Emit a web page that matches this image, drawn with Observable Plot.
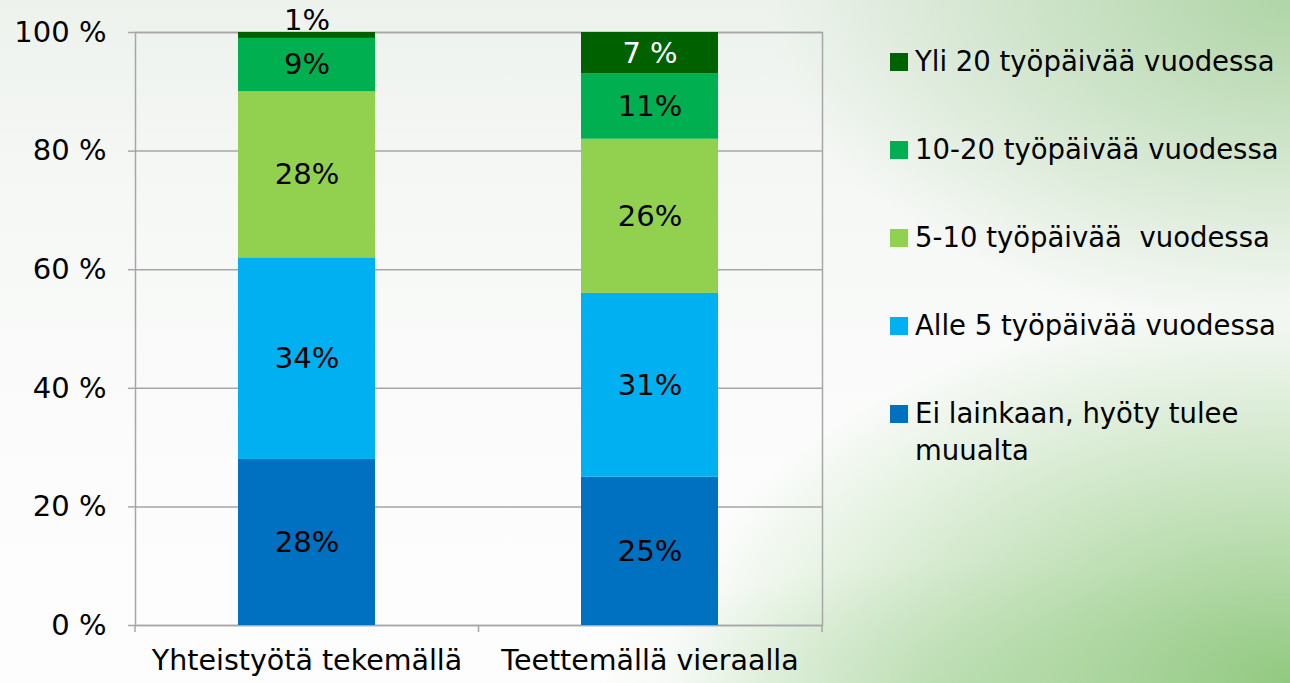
<!DOCTYPE html>
<html>
<head>
<meta charset="utf-8">
<script src="https://cdn.jsdelivr.net/npm/d3@7"></script>
<script src="https://cdn.jsdelivr.net/npm/@observablehq/plot@0.6"></script>
<style>
  html, body { margin: 0; padding: 0; }
  body {
    width: 1290px; height: 683px; overflow: hidden; position: relative;
    background:
      radial-gradient(ellipse 520px 330px at 100% 0%, rgba(165,208,155,0.85), rgba(165,208,155,0) 100%),
      radial-gradient(ellipse 620px 380px at 100% 100%, rgba(140,198,122,0.95), rgba(140,198,122,0) 100%),
      radial-gradient(ellipse 380px 120px at 75% 100%, rgba(160,210,150,0.35), rgba(160,210,150,0) 100%),
      linear-gradient(to bottom, #edf2ed, #f6f8f6 30%, #fbfcfb 70%, #fdfdfd);
    font-family: "DejaVu Sans", sans-serif;
  }
  #chart { position: absolute; left: 0; top: 0; }
  #legend { position: absolute; left: 890px; top: 43px; }
  .item { display: flex; align-items: flex-start; height: 88px; }
  .sw { width: 18px; height: 18px; margin-top: 10px; margin-right: 7px; flex: none; }
  .lab { font-size: 27.5px; line-height: 37px; color: #000; width: 385px; white-space: pre-wrap; }
</style>
</head>
<body>
<div id="chart"></div>
<div id="legend"></div>
<script>
const categories = ["Yhteistyötä tekemällä", "Teettemällä vieraalla"];
const seriesNames = [
  "Ei lainkaan, hyöty tulee muualta",
  "Alle 5 työpäivää vuodessa",
  "5-10 työpäivää  vuodessa",
  "10-20 työpäivää vuodessa",
  "Yli 20 työpäivää vuodessa"
];
const valuesYhteistyo = [28, 34, 28, 9, 1];
const valuesTeettamalla = [25, 31, 26, 11, 7];
const labelsYhteistyo = ["28%", "34%", "28%", "9%", "1%"];
const labelsTeettamalla = ["25%", "31%", "26%", "11%", "7 %"];
const colors = ["#0070c0", "#00b0f0", "#92d050", "#00b050", "#006100"];
const yTicks = [0, 20, 40, 60, 80, 100];

const rows = [];
[[categories[0], valuesYhteistyo, labelsYhteistyo], [categories[1], valuesTeettamalla, labelsTeettamalla]]
  .forEach(([cat, vals, labs]) => vals.forEach((v, i) => rows.push({cat, series: seriesNames[i], value: v, label: labs[i]})));

const dark = seriesNames[4];
const grid = "#a6a6a6";

// x-axis tick marks at category boundaries
function boundaryTicks(index, scales, values, dimensions) {
  const {marginLeft, marginRight, width, height, marginBottom} = dimensions;
  const g = d3.create("svg:g");
  const n = categories.length;
  const step = (width - marginLeft - marginRight) / n;
  for (let i = 0; i <= n; i++) {
    const x = marginLeft + i * step;
    g.append("line").attr("x1", x).attr("x2", x)
      .attr("y1", height - marginBottom).attr("y2", height - marginBottom + 7)
      .attr("stroke", grid).attr("stroke-width", 1.5);
  }
  return g.node();
}

const stackOpts = {x: "cat", y: "value", z: "series", order: seriesNames};

const chart = Plot.plot({
  width: 1290,
  height: 683,
  marginLeft: 135,
  marginRight: 468,
  marginTop: 32,
  marginBottom: 58,
  style: {background: "transparent", fontFamily: "DejaVu Sans, sans-serif", fontSize: "28px", color: "#000"},
  x: {domain: categories, paddingInner: 0.6, paddingOuter: 0.3, label: null},
  y: {domain: [0, 100], label: null},
  color: {domain: seriesNames, range: colors},
  marks: [
    Plot.ruleY(yTicks, {stroke: grid, strokeWidth: 1.5}),
    Plot.frame({stroke: grid, strokeWidth: 1.5}),
    Plot.barY(rows, Plot.stackY({...stackOpts, fill: "series"})),
    Plot.text(rows, Plot.stackY({...stackOpts,
      text: d => (d.series !== dark && d.value >= 3) ? d.label : "",
      fill: "black", fontSize: 29})),
    Plot.text(rows, Plot.stackY({...stackOpts,
      text: d => (d.series === dark && d.value >= 3) ? d.label : "",
      fill: "white", fontSize: 29})),
    Plot.text(rows, Plot.stackY2({...stackOpts,
      text: d => d.value < 3 ? d.label : "",
      fill: "black", fontSize: 29, dy: -12})),
    Plot.axisY({ticks: yTicks, tickFormat: d => d + " %", tickSize: 7, stroke: grid, strokeWidth: 1.5, tickPadding: 22, fill: "black", fontSize: 29, label: null}),
    Plot.axisX({tickSize: 0, tickPadding: 24, fill: "black", fontSize: 28.5, label: null}),
    boundaryTicks
  ]
});
document.getElementById("chart").appendChild(chart);

const legend = document.getElementById("legend");
seriesNames.slice().reverse().forEach((name, i) => {
  const c = colors[colors.length - 1 - i];
  const item = document.createElement("div");
  item.className = "item";
  item.innerHTML = `<div class="sw" style="background:${c}"></div><div class="lab"></div>`;
  item.querySelector(".lab").textContent = name;
  legend.appendChild(item);
});
</script>
</body>
</html>
